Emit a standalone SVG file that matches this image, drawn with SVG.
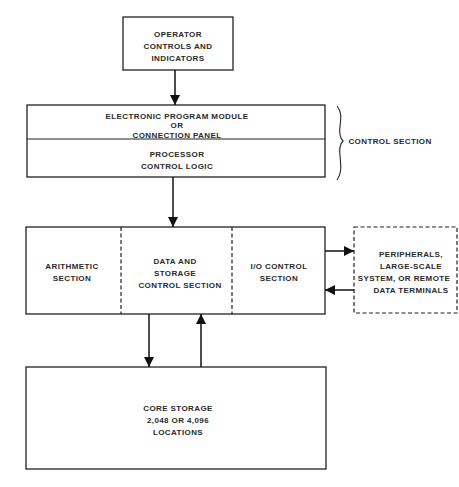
<svg xmlns="http://www.w3.org/2000/svg" width="459" height="487" viewBox="0 0 459 487">
<style>
rect.b{fill:#fff;stroke:#222;stroke-width:1.3}
line.d{stroke:#222;stroke-width:1.2;stroke-dasharray:4,2.5}
.c line,.c path{stroke:#111;stroke-width:1.5;fill:none}
text{font-family:"Liberation Sans",Arial,sans-serif;font-size:8px;font-weight:bold;fill:#2a2a2a;text-anchor:middle;letter-spacing:0.4px}
</style>
<defs>
<marker id="ah" viewBox="0 0 10 10" refX="10" refY="5" markerWidth="10" markerHeight="10" markerUnits="userSpaceOnUse" orient="auto">
<path d="M0,0 L10,5 L0,10 Z" fill="#111"/>
</marker>
</defs>
<rect width="459" height="487" fill="#fff"/>
<g id="operator">
<rect class="b" x="123" y="17" width="110" height="53"/>
<text x="178" y="37">OPERATOR</text>
<text x="178" y="49">CONTROLS AND</text>
<text x="178" y="61">INDICATORS</text>
</g>
<g id="control">
<rect class="b" x="27" y="105" width="298" height="72"/>
<line x1="27" y1="139" x2="325" y2="139" stroke="#222" stroke-width="1.2"/>
<text x="177" y="118.5">ELECTRONIC PROGRAM MODULE</text>
<text x="177" y="128">OR</text>
<text x="177" y="137.5">CONNECTION PANEL</text>
<text x="177" y="157">PROCESSOR</text>
<text x="177" y="169">CONTROL LOGIC</text>
</g>
<g id="control-section">
<path d="M337,106 C342,112 341,118 340,126 C339,134 340,138 343,141 C340,144 339,148 340,156 C341,166 342,173 337,180" fill="none" stroke="#222" stroke-width="1.1"/>
<text x="390" y="144">CONTROL SECTION</text>
</g>
<g id="main">
<rect class="b" x="26" y="227" width="299" height="87"/>
<line class="d" x1="121" y1="227" x2="121" y2="314"/>
<line class="d" x1="232" y1="227" x2="232" y2="314"/>
<text x="72" y="269">ARITHMETIC</text>
<text x="72" y="281">SECTION</text>
<text x="175" y="264">DATA AND</text>
<text x="175" y="276">STORAGE</text>
<text x="180" y="288">CONTROL SECTION</text>
<text x="279" y="269">I/O CONTROL</text>
<text x="279" y="281">SECTION</text>
</g>
<g id="peripherals">
<rect x="354" y="227" width="103" height="86" fill="#fff" stroke="#222" stroke-width="1.2" stroke-dasharray="4,2.5"/>
<text x="411" y="257">PERIPHERALS,</text>
<text x="411" y="269">LARGE-SCALE</text>
<text x="404" y="281">SYSTEM, OR REMOTE</text>
<text x="411" y="293">DATA TERMINALS</text>
</g>
<g id="core">
<rect class="b" x="26" y="367" width="300" height="102"/>
<text x="178" y="411">CORE STORAGE</text>
<text x="178" y="423">2,048 OR 4,096</text>
<text x="178" y="435">LOCATIONS</text>
</g>
<g class="c" id="connectors">
<line x1="175" y1="70" x2="175" y2="105" marker-end="url(#ah)"/>
<line x1="173" y1="177" x2="173" y2="227" marker-end="url(#ah)"/>
<line x1="325" y1="251" x2="354" y2="251" marker-end="url(#ah)"/>
<line x1="354" y1="290" x2="325" y2="290" marker-end="url(#ah)"/>
<line x1="149" y1="314" x2="149" y2="367" marker-end="url(#ah)"/>
<line x1="201" y1="367" x2="201" y2="314" marker-end="url(#ah)"/>
</g>
</svg>
